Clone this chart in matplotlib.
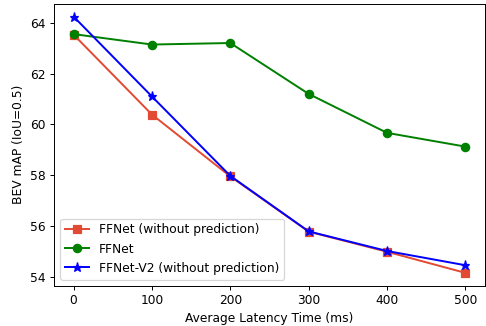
import matplotlib
matplotlib.use("Agg")
import matplotlib.pyplot as plt

# data
latency = [0, 100, 200, 300, 400, 500]
ffnet_no_pred = [63.53, 60.39, 57.96, 55.79, 55.00, 54.17]
ffnet = [63.55, 63.14, 63.20, 61.20, 59.67, 59.13]
ffnet_v2_no_pred = [64.24, 61.10, 57.98, 55.80, 55.03, 54.47]

# reference looks like default styling rendered at a slightly lower dpi
dpi = 88
fig = plt.figure(figsize=(486 / dpi, 326 / dpi), dpi=dpi)
ax = fig.add_axes([0.111, 0.1236, 0.887, 0.865])

ax.plot(latency, ffnet_no_pred, color='#E24A33', marker='s', markersize=6.8,
        linewidth=1.6, label='FFNet (without prediction)')
ax.plot(latency, ffnet, color='green', marker='o', markersize=6.8,
        linewidth=1.6, label='FFNet')
ax.plot(latency, ffnet_v2_no_pred, color='blue', marker='*', markersize=7.5,
        linewidth=1.6, label='FFNet-V2 (without prediction)')

ax.set_xticks(latency)
ax.set_yticks([54, 56, 58, 60, 62, 64])
ax.set_xlabel('Average Latency Time (ms)')
ax.set_ylabel('BEV mAP (IoU=0.5)')
ax.legend(loc='lower left')

fig.savefig('out.png', dpi=dpi)
